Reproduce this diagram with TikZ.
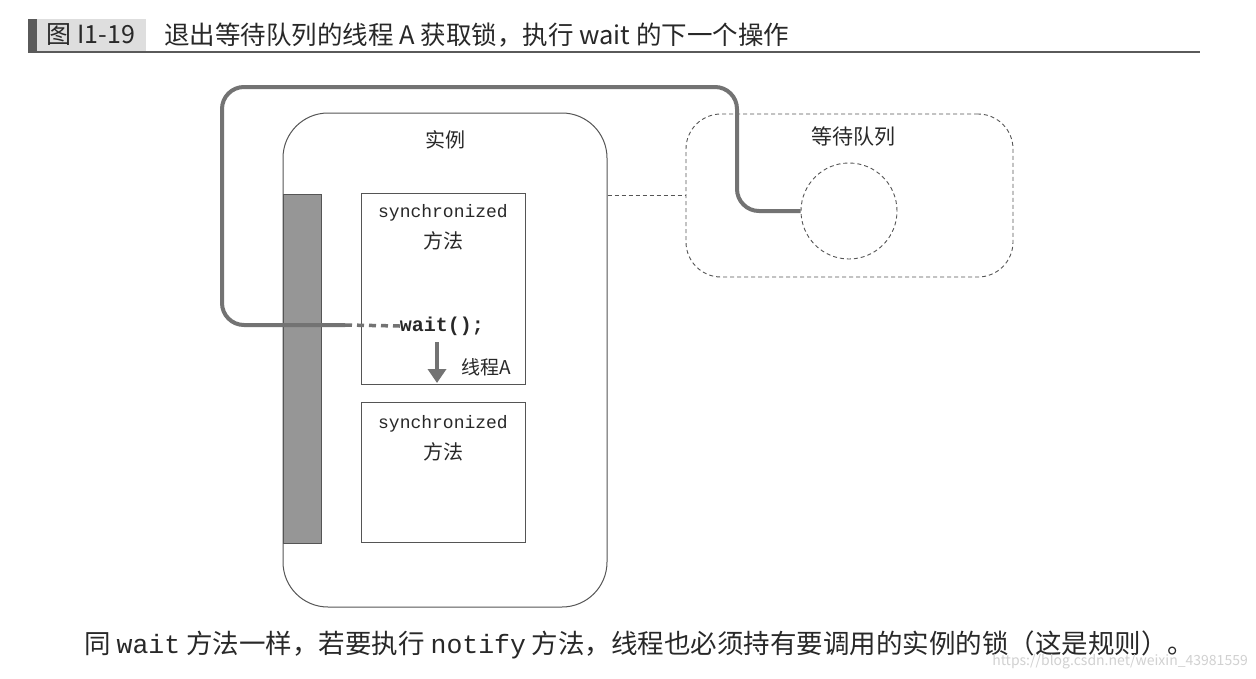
\documentclass[tikz,border=0pt]{standalone}
\usepackage{fontspec}
\setmainfont{Noto Sans CJK SC}
\setmonofont{Liberation Mono}
\usetikzlibrary{arrows.meta}
\definecolor{linec}{RGB}{85,85,85}
\definecolor{pathc}{RGB}{115,115,115}
\definecolor{barc}{RGB}{150,150,150}
\definecolor{hdrbg}{RGB}{222,222,222}
\definecolor{hdrbar}{RGB}{90,90,90}
\definecolor{txtc}{RGB}{40,40,40}
\begin{document}
\begin{tikzpicture}[x=1pt,y=-1pt,
  box/.style={draw=linec, line width=1pt, inner sep=0pt},
  dbox/.style={draw=linec, line width=0.9pt, dashed, dash pattern=on 4pt off 3pt, inner sep=0pt},
  lbl/.style={text=txtc, inner sep=0pt},
  thread/.style={draw=pathc, line width=4pt},
]
\useasboundingbox (0,0) rectangle (1256,678);
\fill[white] (0,0) rectangle (1256,678);

% header
\fill[hdrbar] (28,19) rectangle (37,51);
\fill[hdrbg] (37,19) rectangle (146,51);
\node[lbl, font=\fontsize{25}{29}\selectfont] (fig) at (91,35) {图 I1-19};
\node[lbl, anchor=west, font=\fontsize{25.5}{29}\selectfont] (title) at (164,35) {退出等待队列的线程 A 获取锁，执行 wait 的下一个操作};
\draw[hdrbar, line width=1.5pt] (28,52) -- (1200,52);

% instance
\node[box, rounded corners=45pt, minimum width=324pt, minimum height=494pt] (inst) at (445,360) {};
\node[lbl, font=\fontsize{20}{24}\selectfont] (instl) at (445,140) {实例};
\node[draw=linec, fill=barc, line width=0.8pt, minimum width=38pt, minimum height=349pt, inner sep=0pt] (lock) at (302,368.5) {};
\node[box, minimum width=164pt, minimum height=191pt] (m1) at (443,288.5) {};
\node[box, minimum width=164pt, minimum height=140pt] (m2) at (443,472) {};
\node[lbl, font=\ttfamily\fontsize{18}{22}\selectfont] (s1) at (443,213) {synchronized};
\node[lbl, font=\fontsize{20}{24}\selectfont] (f1) at (443,241) {方法};
\node[lbl, font=\ttfamily\fontsize{18}{22}\selectfont] (s2) at (443,424) {synchronized};
\node[lbl, font=\fontsize{20}{24}\selectfont] (f2) at (443,452) {方法};
\node[lbl, font=\ttfamily\bfseries\fontsize{20}{24}\selectfont] (wait) at (442,326) {wait();};
\coordinate (a1) at (437,342);
\coordinate (a2) at (437,383);
\draw[pathc, line width=3.5pt, -{Triangle[length=14pt,width=18pt]}] (a1) -- (a2);
\node[lbl, anchor=west, font=\fontsize{19}{23}\selectfont] (thA) at (461,367) {线程A};

% wait queue
\node[dbox, rounded corners=35pt, minimum width=327pt, minimum height=163pt] (queue) at (849.5,195.5) {};
\node[lbl, font=\fontsize{21}{25}\selectfont] (ql) at (853,137) {等待队列};
\node[dbox, circle, minimum size=96pt] (slot) at (849,211) {};
\draw[linec, line width=0.9pt, dash pattern=on 4pt off 3pt] (queue.west -| inst.east) -- (queue.west);

% thread path
\coordinate (t1) at (737,211);
\coordinate (t2) at (737,87);
\coordinate (t3) at (222,87);
\coordinate (t4) at (222,325);
\coordinate (t5) at (345,325);
\draw[thread, rounded corners=22pt] (slot.west) -- (t1) -- (t2) -- (t3) -- (t4) -- (t5);
\draw[thread, line width=3.5pt, dash pattern=on 7pt off 5pt] (t5) -- (wait.west);

% caption
\node[lbl, anchor=west, font=\fontsize{26.5}{30}\selectfont] (cap) at (84,645) {同 \texttt{wait} 方法一样，若要执行 \texttt{notify} 方法，线程也必须持有要调用的实例的锁（这是规则）。};
\node[anchor=east, inner sep=0pt, text=black!18, font=\fontsize{14}{16}\selectfont] (wm) at (1248,662) {https://blog.csdn.net/weixin\_43981559};
\end{tikzpicture}
\end{document}
